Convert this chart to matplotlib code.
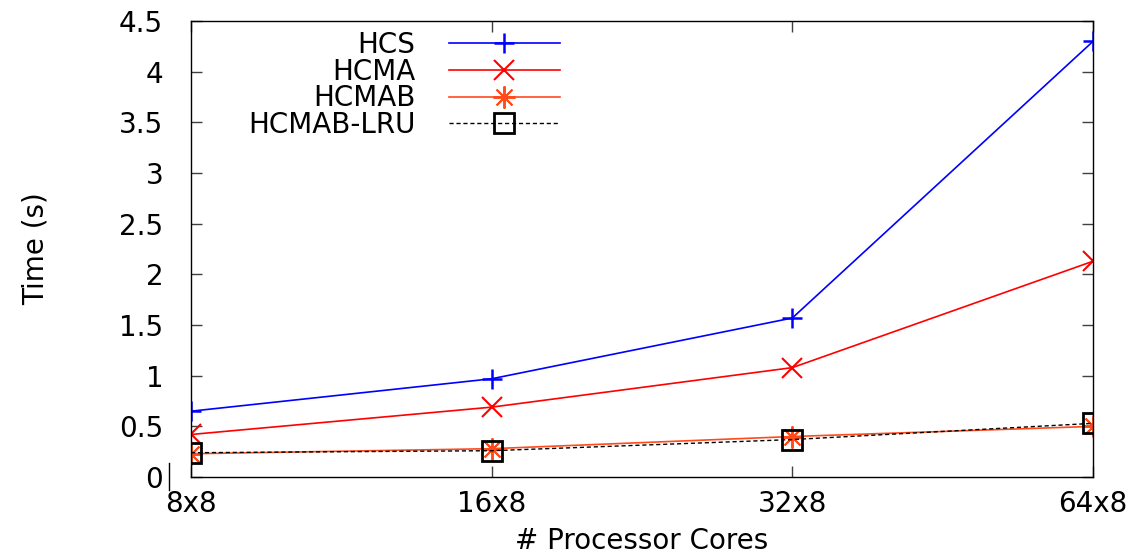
import matplotlib
matplotlib.use("Agg")
import matplotlib.pyplot as plt
from matplotlib.lines import Line2D

cores = ["8x8", "16x8", "32x8", "64x8"]
hcs = [0.65, 0.97, 1.57, 4.30]
hcma = [0.42, 0.69, 1.08, 2.13]
hcmab = [0.23, 0.28, 0.40, 0.50]
hcmab_lru = [0.24, 0.26, 0.37, 0.53]


def main():
    plt.rcParams["font.family"] = ["DejaVu Sans"]
    fig = plt.figure(figsize=(11.37, 5.56), dpi=100)
    ax = fig.add_axes([0.168, 0.142, 0.7933, 0.820])

    x = range(len(cores))
    ax.plot(x, hcs, color="#0000ff", lw=1.2, marker="+", ms=15, mew=1.8, label="HCS")
    ax.plot(x, hcma, color="#ff0000", lw=1.2, marker="x", ms=15, mew=1.5, label="HCMA")
    ax.plot(x, hcmab, color="#ff4a1c", lw=1.2, marker=(8, 2, 0), ms=16, mew=1.4, label="HCMAB")
    ax.plot(x, hcmab_lru, color="black", lw=1.0, ls=(0, (3, 2)), marker="s", ms=14,
            mfc="none", mew=2.0, label="HCMAB-LRU")

    ax.set_xlim(0, len(cores) - 1)
    ax.set_ylim(0, 4.5)
    ax.set_xticks(list(x))
    ax.set_xticklabels(cores)
    ax.set_yticks([0, 0.5, 1, 1.5, 2, 2.5, 3, 3.5, 4, 4.5])
    ax.set_yticklabels(["0", "0.5", "1", "1.5", "2", "2.5", "3", "3.5", "4", "4.5"])
    ax.tick_params(direction="in", length=8, width=1, labelsize=20,
                   top=True, right=True, color="#404040")
    ax.tick_params(axis="x", pad=9)
    ax.tick_params(axis="y", pad=20)
    for s in ax.spines.values():
        s.set_linewidth(1.0)

    ax.set_xlabel("# Processor Cores", fontsize=20, labelpad=7)
    ax.set_ylabel("Time (s)", fontsize=20, labelpad=50)

    leg = ax.legend(loc="upper right", bbox_to_anchor=(0.409, 0.978), markerfirst=False,
                    frameon=False, fontsize=20, handlelength=4.0, handletextpad=1.2,
                    labelspacing=-0.05, borderpad=0, borderaxespad=0)
    leg.set_zorder(5)

    # stray tick line next to the "0" label
    fig.add_artist(Line2D([169 / 1137, 169 / 1137], [1 - 463 / 556, 1 - 490 / 556],
                          color="black", lw=1.0))

    fig.savefig("out.png", dpi=100)


if __name__ == "__main__":
    main()
